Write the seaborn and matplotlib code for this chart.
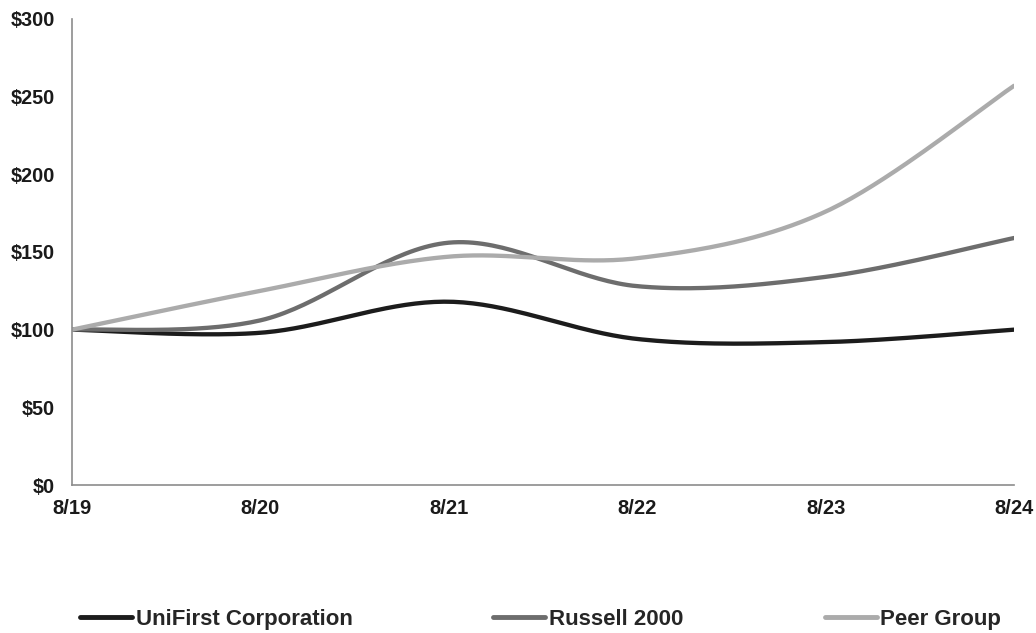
import numpy as np
import pandas as pd
import matplotlib
matplotlib.use("Agg")
import matplotlib.pyplot as plt
import seaborn as sns
from matplotlib.lines import Line2D

years = ["8/19", "8/20", "8/21", "8/22", "8/23", "8/24"]
unifirst = [100, 98, 118, 94, 92, 100]
russell = [100, 106, 156, 128, 134, 159]
peer = [100, 125, 147, 146, 176, 257]

series_names = ["UniFirst Corporation", "Russell 2000", "Peer Group"]
series_colors = ["#1c1c1c", "#6d6d6d", "#ababab"]


def smooth(xs, ys, steps=40):
    # Excel-style smoothed line: Catmull-Rom bezier through the points
    xs = np.asarray(xs, float)
    ys = np.asarray(ys, float)
    px = np.concatenate([[xs[0]], xs, [xs[-1]]])
    py = np.concatenate([[ys[0]], ys, [ys[-1]]])
    out_x, out_y = [], []
    t = np.linspace(0, 1, steps)
    for i in range(1, len(px) - 2):
        p0 = np.array([px[i], py[i]])
        p3 = np.array([px[i + 1], py[i + 1]])
        c1 = p0 + (np.array([px[i + 1], py[i + 1]]) - np.array([px[i - 1], py[i - 1]])) / 6
        c2 = p3 - (np.array([px[i + 2], py[i + 2]]) - np.array([px[i], py[i]])) / 6
        for tt in t:
            pt = ((1 - tt) ** 3) * p0 + 3 * ((1 - tt) ** 2) * tt * c1 + 3 * (1 - tt) * tt ** 2 * c2 + tt ** 3 * p3
            out_x.append(pt[0])
            out_y.append(pt[1])
    return out_x, out_y


sns.set_theme(style="white")
plt.rcParams["font.family"] = ["Liberation Sans", "DejaVu Sans"]
plt.rcParams["font.weight"] = "bold"

xpos = np.arange(len(years))
frames = []
for name, vals in zip(series_names, [unifirst, russell, peer]):
    sx, sy = smooth(xpos, vals)
    frames.append(pd.DataFrame({"x": sx, "y": sy, "series": name}))
df = pd.concat(frames, ignore_index=True)

fig = plt.figure(figsize=(10.36, 6.33), dpi=100)
ax = fig.add_axes([0.0695, 0.2338, 0.9093, 0.7362])

sns.lineplot(data=df, x="x", y="y", hue="series", palette=series_colors,
             hue_order=series_names, linewidth=3.1, sort=False,
             estimator=None, legend=False, ax=ax)
for line in ax.get_lines():
    line.set_solid_capstyle("round")

ax.set_xlim(0, len(years) - 1)
ax.set_ylim(0, 300)
ax.set_xticks(xpos)
ax.set_xticklabels(years, fontsize=14.5, fontweight="bold")
ax.set_yticks(range(0, 301, 50))
ax.set_yticklabels([f"${v}" for v in range(0, 301, 50)], fontsize=14.3, fontweight="bold")
ax.set_xlabel("")
ax.set_ylabel("")

for side in ["top", "right"]:
    ax.spines[side].set_visible(False)
for side in ["left", "bottom"]:
    ax.spines[side].set_color("#8c8c8c")
    ax.spines[side].set_linewidth(1.2)
ax.tick_params(axis="x", direction="in", length=6, width=1, color="#8c8c8c", pad=10, labelcolor="#1a1a1a")
ax.tick_params(axis="y", direction="out", length=5, width=1, color="#8c8c8c", pad=7.5, labelcolor="#1a1a1a")

# legend entries along the bottom
legend_x = [0.0772, 0.476, 0.796]
for name, col, lx in zip(series_names, series_colors, legend_x):
    h = Line2D([], [], color=col, linewidth=3.5, solid_capstyle="round")
    fig.legend(handles=[h], labels=[name], loc="center left",
               bbox_to_anchor=(lx, 0.022), frameon=False, handlelength=2.35,
               handletextpad=0.15, borderaxespad=0, borderpad=0,
               prop={"size": 16, "weight": "bold"})

fig.savefig("out.png", dpi=100)
